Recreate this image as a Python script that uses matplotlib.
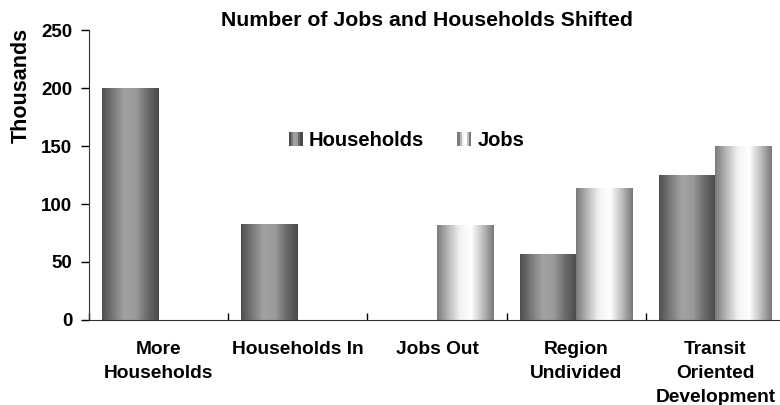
import numpy as np
import matplotlib
matplotlib.use("Agg")
import matplotlib.pyplot as plt
from matplotlib.patches import Rectangle
from matplotlib.legend_handler import HandlerBase
from matplotlib.colors import LinearSegmentedColormap

plt.rcParams['font.family'] = ['Liberation Sans', 'DejaVu Sans']
plt.rcParams['font.weight'] = 'bold'

# Data (thousands)
categories = ['More\nHouseholds', 'Households In', 'Jobs Out', 'Region\nUndivided', 'Transit\nOriented\nDevelopment']
households = [200, 83, 0, 57, 125]
jobs = [0, 0, 82, 114, 150]
series_names = ['Households', 'Jobs']

# Shading along the width of a bar, left -> right
hh_shades = ['#4e4e4e', '#7a7a7a', '#a2a2a2', '#9a9a9a', '#6a6a6a', '#4a4a4a']
job_shades = ['#7a7a7a', '#b8b8b8', '#f2f2f2', '#ffffff', '#c0c0c0', '#787878']
hh_cmap = LinearSegmentedColormap.from_list('hh', hh_shades)
job_cmap = LinearSegmentedColormap.from_list('jobs', job_shades)

fig = plt.figure(figsize=(7.8, 4.05), dpi=100)
ax = fig.add_axes([89 / 780, 85 / 405, 696 / 780, 290 / 405])

x = np.arange(len(categories))
w = 0.405
grad = np.linspace(0, 1, 256).reshape(1, -1)


def shaded_bars(xpos, vals, cmap):
    bars = ax.bar(xpos, vals, w, color='none', edgecolor='none')
    for b in bars:
        if b.get_height() <= 0:
            continue
        x0, y0 = b.get_x(), b.get_y()
        im = ax.imshow(grad, cmap=cmap, aspect='auto', interpolation='bilinear',
                       extent=[x0, x0 + b.get_width(), y0, y0 + b.get_height()], zorder=2)
        im.set_clip_path(b)
    return bars


shaded_bars(x - w / 2, households, hh_cmap)
shaded_bars(x + w / 2, jobs, job_cmap)

ax.set_xlim(-0.5, len(categories) - 0.5)
ax.set_ylim(0, 250)
ax.set_yticks(range(0, 251, 50))
ax.tick_params(axis='y', labelsize=13.5, length=6, width=1, direction='out', pad=6)
ax.set_xticks(x)
ax.set_xticklabels(categories, fontsize=13.8, fontweight='bold', linespacing=1.53)
ax.tick_params(axis='x', length=0, pad=15)
ax.set_xticks(np.arange(len(categories) + 1) - 0.5, minor=True)
ax.tick_params(axis='x', which='minor', length=5, width=1, direction='in')
for lbl in ax.get_yticklabels():
    lbl.set_fontweight('bold')

ax.spines['top'].set_visible(False)
ax.spines['right'].set_visible(False)
ax.spines['left'].set_color('#333333')
ax.spines['bottom'].set_color('#333333')
ax.set_ylabel('Thousands', fontsize=15.5, fontweight='bold')
ax.yaxis.set_label_coords(-0.082, 0.81)
ax.set_title('Number of Jobs and Households Shifted', fontsize=15.3, fontweight='bold',
             pad=3, x=0.486)


class GradHandler(HandlerBase):
    def __init__(self, shades):
        super().__init__()
        self.shades = shades

    def create_artists(self, legend, orig_handle, xdescent, ydescent, width, height, fontsize, trans):
        n = len(self.shades)
        return [Rectangle((-xdescent + i * width / n, -ydescent), width / n, height,
                          facecolor=c, edgecolor='none', transform=trans)
                for i, c in enumerate(self.shades)]


h1 = Rectangle((0, 0), 1, 1)
h2 = Rectangle((0, 1), 1, 1)
ax.legend([h1, h2], series_names, loc='center', bbox_to_anchor=(0.456, 0.62), ncol=2,
          frameon=False, handlelength=0.7, handleheight=0.7,
          handletextpad=0.3, columnspacing=1.65,
          handler_map={h1: GradHandler(hh_shades), h2: GradHandler(job_shades)},
          prop={'weight': 'bold', 'size': 14.5})

fig.savefig('out.png', dpi=100)
